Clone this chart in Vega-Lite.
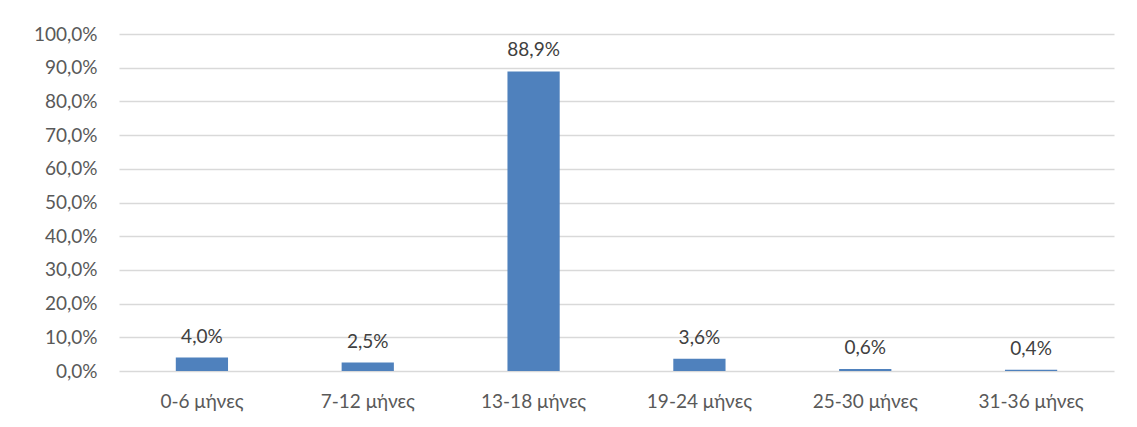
{
  "$schema": "https://vega.github.io/schema/vega-lite/v6.json",
  "autosize": "none",
  "width": 995,
  "height": 337,
  "padding": {"left": 119, "top": 34, "right": 23, "bottom": 56},
  "background": "white",
  "config": {
    "view": {"stroke": null},
    "locale": {"number": {"decimal": ",", "thousands": ".", "grouping": [3], "currency": ["", " €"]}},
    "font": "Lato"
  },
  "data": {"values": [
    {"group": "0-6 μήνες", "pct": 0.040},
    {"group": "7-12 μήνες", "pct": 0.025},
    {"group": "13-18 μήνες", "pct": 0.889},
    {"group": "19-24 μήνες", "pct": 0.036},
    {"group": "25-30 μήνες", "pct": 0.006},
    {"group": "31-36 μήνες", "pct": 0.004}
  ]},
  "encoding": {
    "x": {"field": "group", "type": "nominal", "sort": null,
      "scale": {"paddingInner": 0.685, "paddingOuter": 0.3425},
      "axis": {"title": null, "labelAngle": 0, "domain": false, "ticks": false, "labelPadding": 21,
        "labelFont": "Lato", "labelFontSize": 19, "labelColor": "#595959"}},
    "y": {"field": "pct", "type": "quantitative",
      "scale": {"domain": [0, 1]},
      "axis": {"title": null, "format": ".1%", "values": [0,0.1,0.2,0.3,0.4,0.5,0.6,0.7,0.8,0.9,1.0],
        "labelOverlap": false, "labelBound": false,
        "domain": false, "ticks": false, "labelPadding": 22, "gridColor": "#d9d9d9", "gridWidth": 1.5,
        "labelFont": "Lato", "labelFontSize": 19, "labelColor": "#595959"}}
  },
  "layer": [
    {"mark": {"type": "bar", "color": "#4F81BD"}},
    {"mark": {"type": "text", "baseline": "alphabetic", "dy": -15, "font": "Lato", "fontSize": 19, "color": "#404040"},
      "encoding": {"text": {"field": "pct", "type": "quantitative", "format": ".1%"}}}
  ]
}
